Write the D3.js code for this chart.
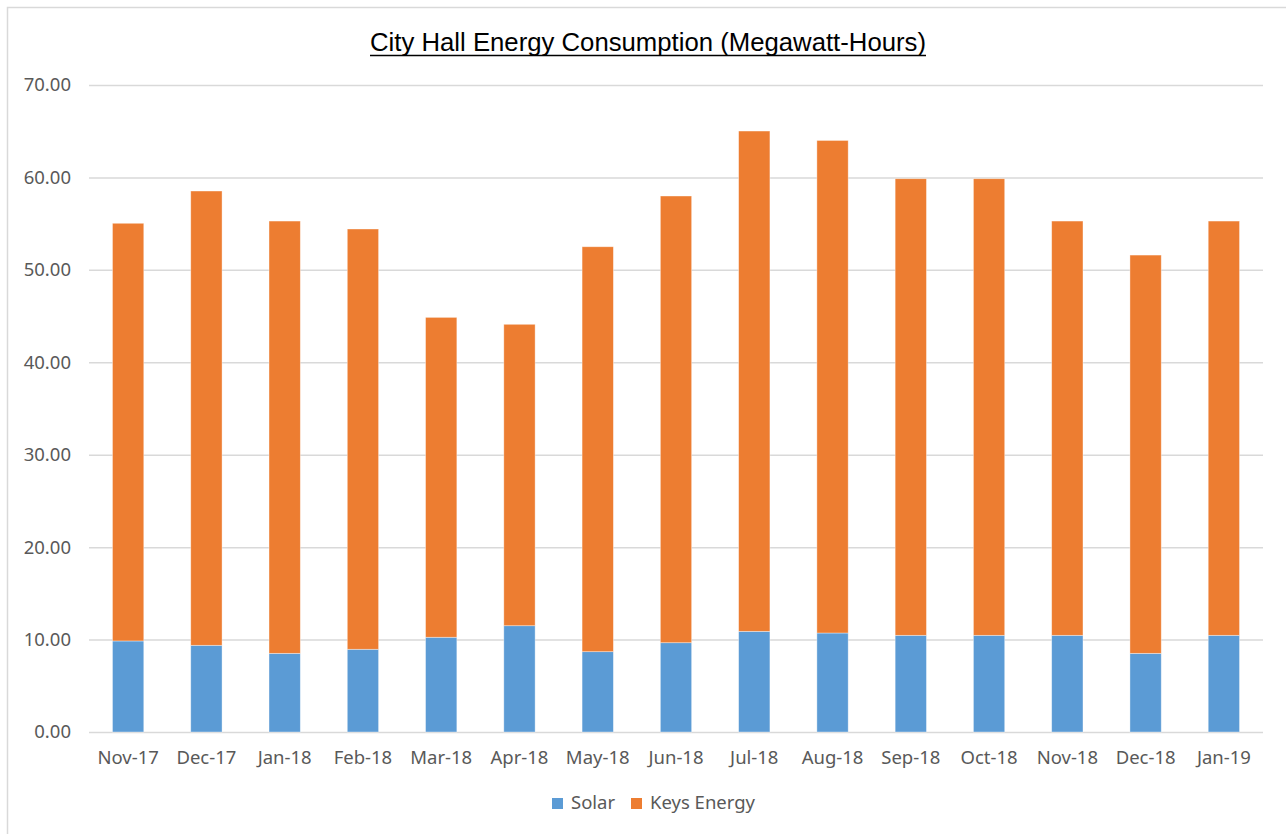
<!DOCTYPE html>
<html>
<head>
<meta charset="utf-8">
<script src="https://cdn.jsdelivr.net/npm/d3@7"></script>
<style>
  body { margin: 0; background: #fff; }
  text { font-family: "Noto Sans", "Open Sans", sans-serif; fill: #595959; }
</style>
</head>
<body>
<div id="chart"></div>
<script>
// months on the x axis
var months = ["Nov-17","Dec-17","Jan-18","Feb-18","Mar-18","Apr-18","May-18","Jun-18",
              "Jul-18","Aug-18","Sep-18","Oct-18","Nov-18","Dec-18","Jan-19"];
// solar part (bottom of each stack)
var solar = [9.85, 9.38, 8.51, 8.95, 10.25, 11.50, 8.69, 9.66, 10.89, 10.71, 10.46, 10.46, 10.46, 8.51, 10.46];
// keys energy part (top of each stack)
var keys = [45.19, 49.15, 46.77, 45.47, 34.61, 32.61, 43.81, 48.33, 54.13, 53.29, 49.40, 49.40, 44.82, 43.09, 44.82];
var yTicks = [0, 10, 20, 30, 40, 50, 60, 70];
var seriesNames = ["Solar", "Keys Energy"];
var colors = ["#5B9BD5", "#ED7D31"];

var W = 1286, H = 834;
var margin = {left: 89, right: 23, top: 85, bottom: 102};

var svg = d3.select("#chart").append("svg")
    .attr("width", W)
    .attr("height", H);

// chart frame
svg.append("rect")
    .attr("x", 7.5).attr("y", 7.5)
    .attr("width", W).attr("height", H)
    .attr("fill", "none")
    .attr("stroke", "#D9D9D9")
    .attr("stroke-width", 1.5);

var x = d3.scaleBand()
    .domain(months)
    .range([margin.left, W - margin.right])
    .paddingInner(0.6)
    .paddingOuter(0.3);

var y = d3.scaleLinear()
    .domain([0, 70])
    .range([H - margin.bottom, margin.top]);

// gridlines + y labels
var yAxis = d3.axisLeft(y)
    .tickValues(yTicks)
    .tickSize(-(W - margin.left - margin.right))
    .tickPadding(18)
    .tickFormat(d3.format(".2f"));

var gy = svg.append("g")
    .attr("transform", "translate(" + margin.left + ",0)")
    .call(yAxis);
gy.select(".domain").remove();
gy.selectAll(".tick line").attr("stroke", "#D9D9D9").attr("stroke-width", 1.5);
gy.selectAll(".tick text").attr("font-size", "18.5px").attr("fill", "#595959");

// stacked data
var rows = months.map(function(m, i){ return {month: m, Solar: solar[i], "Keys Energy": keys[i]}; });
var stack = d3.stack().keys(seriesNames)(rows);

svg.append("g").selectAll("g")
    .data(stack)
    .enter().append("g")
    .attr("fill", function(d, i){ return colors[i]; })
    .selectAll("rect")
    .data(function(d){ return d; })
    .enter().append("rect")
    .attr("x", function(d){ return x(d.data.month); })
    .attr("width", x.bandwidth())
    .attr("y", function(d){ return y(d[1]); })
    .attr("height", function(d){ return y(d[0]) - y(d[1]); })
    .attr("stroke", "#ffffff")
    .attr("stroke-opacity", 0.5)
    .attr("stroke-width", 0.75);

// x labels
var xAxis = d3.axisBottom(x).tickSize(0).tickPadding(19);
var gx = svg.append("g")
    .attr("transform", "translate(0," + (H - margin.bottom) + ")")
    .call(xAxis);
gx.select(".domain").remove();
gx.selectAll(".tick text").attr("font-size", "18.5px").attr("fill", "#595959");

// title
var title = svg.append("text")
    .attr("x", 648)
    .attr("y", 51)
    .attr("text-anchor", "middle")
    .attr("font-size", "25px")
    .style("font-family", "'Liberation Sans Narrow', 'Liberation Sans', sans-serif")
    .attr("textLength", 556)
    .attr("lengthAdjust", "spacingAndGlyphs")
    .style("fill", "#000")
    .text("City Hall Energy Consumption (Megawatt-Hours)");
svg.append("line")
    .attr("x1", 370).attr("x2", 926)
    .attr("y1", 55.5).attr("y2", 55.5)
    .attr("stroke", "#000").attr("stroke-width", 1.6);

// legend
var legendX = [552, 631];
var legend = svg.append("g").selectAll("g")
    .data(seriesNames)
    .enter().append("g")
    .attr("transform", function(d, i){ return "translate(" + legendX[i] + ",798)"; });
legend.append("rect")
    .attr("width", 11).attr("height", 11)
    .attr("fill", function(d, i){ return colors[i]; });
legend.append("text")
    .attr("x", 19).attr("y", 11)
    .attr("font-size", "18.5px")
    .text(function(d){ return d; });
</script>
</body>
</html>
